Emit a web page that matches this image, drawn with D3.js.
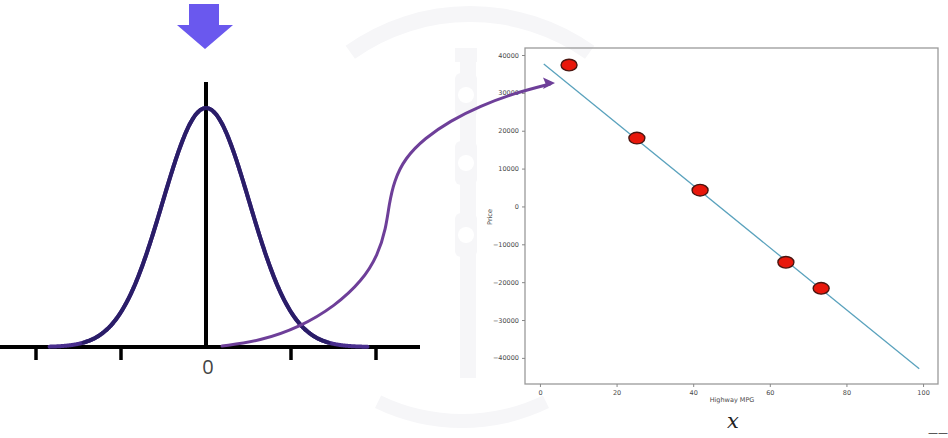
<!DOCTYPE html>
<html><head><meta charset="utf-8">
<script src="https://cdn.jsdelivr.net/npm/d3@7"></script>
<style>html,body{margin:0;padding:0;background:#fff;overflow:hidden}svg{display:block}</style>
</head><body>
<svg id="c" width="948" height="438"></svg>
<script>
// ---------- data ----------
const mpg = [7.6, 25.3, 41.8, 64.2, 73.4];
const price = [37350, 18050, 4300, -14750, -21630];
const fitX = [1, 99];
const fitY = [37600, -42900];
const xTicks = [0, 20, 40, 60, 80, 100];
const yTicks = [40000, 30000, 20000, 10000, 0, -10000, -20000, -30000, -40000];
const normTicks = [-2, -1, 1, 2];
const normLabel = ["0"];
const bellMean = 0, bellSD = 0.51;

const svg = d3.select("#c");

// ---------- faint watermark ----------
const wm = svg.append("g").attr("fill", "#f6f6f8").attr("stroke", "none");
wm.append("path").attr("d", d3.arc()({innerRadius: 198, outerRadius: 214, startAngle: -0.62, endAngle: 0.62})).attr("transform", "translate(470,220)");
wm.append("path").attr("d", d3.arc()({innerRadius: 186, outerRadius: 200, startAngle: Math.PI - 0.45, endAngle: Math.PI + 0.45})).attr("transform", "translate(462,228)");
wm.append("rect").attr("x", 460).attr("y", 48).attr("width", 16).attr("height", 330);
wm.append("rect").attr("x", 455).attr("y", 48).attr("width", 22).attr("height", 14);
[95, 163, 235].forEach(cy => {
  wm.append("rect").attr("x", 455).attr("y", cy - 22).attr("width", 22).attr("height", 44).attr("rx", 6);
  wm.append("circle").attr("cx", 466).attr("cy", cy).attr("r", 8).attr("fill", "#fff");
});

// ---------- left: normal curve ----------
const nx = d3.scaleLinear().domain([0, 1]).range([206, 291]);
const ny = d3.scaleLinear().domain([0, 1]).range([347, 108]);
const pdf = v => Math.exp(-0.5 * ((v - bellMean) / bellSD) ** 2);

const left = svg.append("g");
left.append("line").attr("x1", 0).attr("x2", 420).attr("y1", ny(0)).attr("y2", ny(0))
  .attr("stroke", "#000").attr("stroke-width", 4);
left.selectAll(".nt").data(normTicks).join("line")
  .attr("x1", d => nx(d)).attr("x2", d => nx(d)).attr("y1", ny(0)).attr("y2", ny(0) + 13)
  .attr("stroke", "#000").attr("stroke-width", 3.5);
left.append("line").attr("x1", nx(0)).attr("x2", nx(0)).attr("y1", 82).attr("y2", ny(0))
  .attr("stroke", "#000").attr("stroke-width", 4);
left.append("text").attr("x", nx(0) + 2).attr("y", 374).attr("text-anchor", "middle")
  .attr("font-family", "Open Sans, sans-serif").attr("font-size", 20).attr("fill", "#444")
  .text(normLabel[0]);

const bellPts = d3.range(-1.84, 1.905, 0.01).map(v => [v, pdf(v)]);
const bellLine = d3.line().x(d => nx(d[0])).y(d => ny(d[1])).curve(d3.curveBasis);
left.append("path").attr("d", bellLine(bellPts)).attr("fill", "none")
  .attr("stroke", "#4a2f8f").attr("stroke-width", 4).attr("stroke-linecap", "round");
left.append("path").attr("d", bellLine(bellPts.filter(d => Math.abs(d[0]) < 1.45))).attr("fill", "none")
  .attr("stroke", "#2a1d68").attr("stroke-width", 4).attr("stroke-linecap", "round");

// down arrow
svg.append("path")
  .attr("d", "M189,4 L219,4 L219,25 L233,25 L205,49 L177,25 L189,25 Z")
  .attr("fill", "#6a58ee");

// ---------- right: scatter ----------
const x = d3.scaleLinear().domain([-3.9, 103.9]).range([525, 938]);
const y = d3.scaleLinear().domain([-46900, 41850]).range([384, 48]);
const right = svg.append("g").attr("font-family", "DejaVu Sans, sans-serif");

right.append("rect").attr("x", 525).attr("y", 48).attr("width", 413).attr("height", 336)
  .attr("fill", "none").attr("stroke", "#9a9a9a").attr("stroke-width", 1.3);

const xa = right.append("g").attr("transform", "translate(0,384)")
  .call(d3.axisBottom(x).tickValues(xTicks).tickSize(3).tickPadding(3));
const ya = right.append("g").attr("transform", "translate(525,0)")
  .call(d3.axisLeft(y).tickValues(yTicks).tickSize(3).tickPadding(3).tickFormat(d => d < 0 ? "\u2212" + Math.abs(d) : d));
[xa, ya].forEach(a => {
  a.select(".domain").remove();
  a.selectAll("line").attr("stroke", "#888");
  a.selectAll("text").attr("fill", "#4a4a4a").attr("font-size", 6.5).attr("font-family", "DejaVu Sans, sans-serif");
});

right.append("text").attr("x", 732).attr("y", 402).attr("text-anchor", "middle")
  .attr("font-size", 6.5).attr("fill", "#4a4a4a").text("Highway MPG");
right.append("text").attr("transform", "translate(492,217) rotate(-90)").attr("text-anchor", "middle")
  .attr("font-size", 6.5).attr("fill", "#4a4a4a").text("Price");

right.append("line").attr("x1", x(fitX[0])).attr("y1", y(fitY[0])).attr("x2", x(fitX[1])).attr("y2", y(fitY[1]))
  .attr("stroke", "#5aa2bd").attr("stroke-width", 1.3);

right.selectAll(".pt").data(mpg.map((m, i) => [m, price[i]])).join("ellipse")
  .attr("cx", d => x(d[0])).attr("cy", d => y(d[1])).attr("rx", 8).attr("ry", 5.8)
  .attr("fill", "#e8170b").attr("stroke", "#4a1510").attr("stroke-width", 1.4);

// ---------- curved purple arrow ----------
const arrowPts = [[222, 346], [260, 341], [300, 327], [335, 306], [362, 281], [378, 255], [386, 228],
  [389, 205], [394, 181], [405, 158], [425, 138], [450, 121], [480, 106], [515, 93], [550, 84]];
svg.append("path").attr("d", d3.line().curve(d3.curveBasis)(arrowPts))
  .attr("fill", "none").attr("stroke", "#6e3f99").attr("stroke-width", 3).attr("stroke-linecap", "round");
svg.append("path").attr("d", "M555,83 L543,77.5 L545.5,83.5 L543,89 Z").attr("fill", "#6e3f99");

// ---------- misc text ----------
svg.append("text").attr("x", 733).attr("y", 428).attr("text-anchor", "middle")
  .attr("font-family", "DejaVu Serif, serif").attr("font-style", "italic").attr("font-size", 21)
  .attr("fill", "#222").text("x");
svg.append("text").attr("x", 928).attr("y", 436)
  .attr("font-family", "DejaVu Sans, sans-serif").attr("font-size", 10).attr("fill", "#333").text("——");
</script>
</body></html>
